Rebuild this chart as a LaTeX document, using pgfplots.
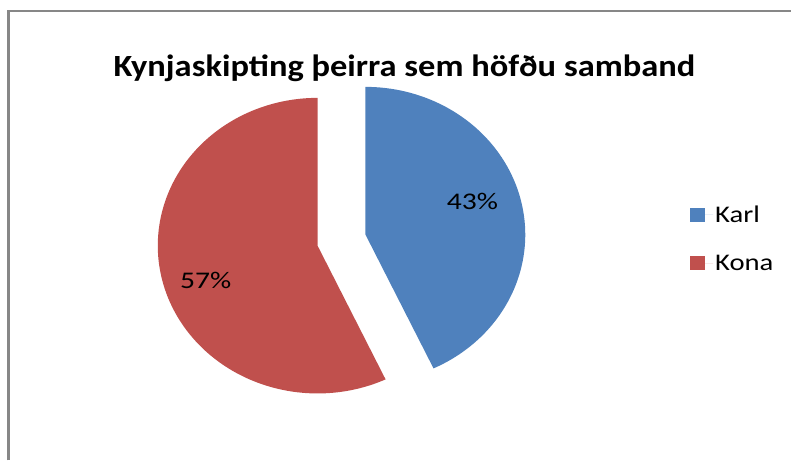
\documentclass[border=0pt]{standalone}
\usepackage{pgfplots}
\usepackage{pgfplotstable}
\pgfplotsset{compat=1.18}
\usepackage{fontspec}
\setmainfont{Carlito}
\definecolor{karlblue}{HTML}{4F81BD}
\definecolor{konared}{HTML}{C0504D}
\definecolor{bordergray}{HTML}{878787}
\pgfplotstableread{
label value
Karl 43
Kona 57
}\piedata
\pgfplotstablegetelem{0}{value}\of\piedata \let\karlval\pgfplotsretval
\pgfplotstablegetelem{1}{value}\of\piedata \let\konaval\pgfplotsretval
\pgfmathsetmacro\angsplit{90-3.6*\karlval}
\pgfmathsetmacro\angend{\angsplit-3.6*\konaval}
\newcommand\wide[1]{\scalebox{1.2}[1]{#1}}
\begin{document}
\begin{tikzpicture}
\begin{axis}[
  width=792bp, height=461bp, scale only axis,
  xmin=0, xmax=792, ymin=0, ymax=461, y dir=reverse,
  hide axis, clip=false,
  legend style={at={(axis cs:691,204)}, anchor=north west, draw=none, fill=none,
    font=\fontsize{24}{28}\selectfont, row sep=27bp, inner sep=0pt,
    cells={anchor=west}},
  legend image code/.code={\fill[#1] (0bp,-7bp) rectangle (15bp,7bp); \path (0bp,0bp) -- (23bp,0bp);},
]
% border
\draw[bordergray, line width=2.2bp] (axis cs:8.5,461) -- (axis cs:8.5,11) -- (axis cs:792,11);
% Karl wedge (exploded)
\addplot[fill=karlblue, draw=none, domain=\angsplit:90, samples=120]
  ({366+160*cos(x)},{235-148*sin(x)}) -- (axis cs:366,235) -- cycle;
\addlegendentry{\wide{Karl}}
% Kona wedge
\addplot[fill=konared, draw=none, domain=\angend:\angsplit, samples=160]
  ({318+160*cos(x)},{246-148*sin(x)}) -- (axis cs:318,246) -- cycle;
\addlegendentry{\wide{Kona}}
% title
\node[font=\bfseries\fontsize{31}{35}\selectfont, anchor=base, inner sep=0pt] at (axis cs:405,77) {\scalebox{1.117}[1]{Kynjaskipting þeirra sem höfðu samband}};
% data labels
\node[font=\fontsize{24}{28}\selectfont, inner sep=0pt] at (axis cs:473,202) {\scalebox{1.24}[1]{\karlval\%}};
\node[font=\fontsize{24}{28}\selectfont, inner sep=0pt] at (axis cs:206,280.5) {\scalebox{1.24}[1]{\konaval\%}};
\end{axis}
\path (current axis.south west) rectangle (current axis.north east);
\end{tikzpicture}
\end{document}
